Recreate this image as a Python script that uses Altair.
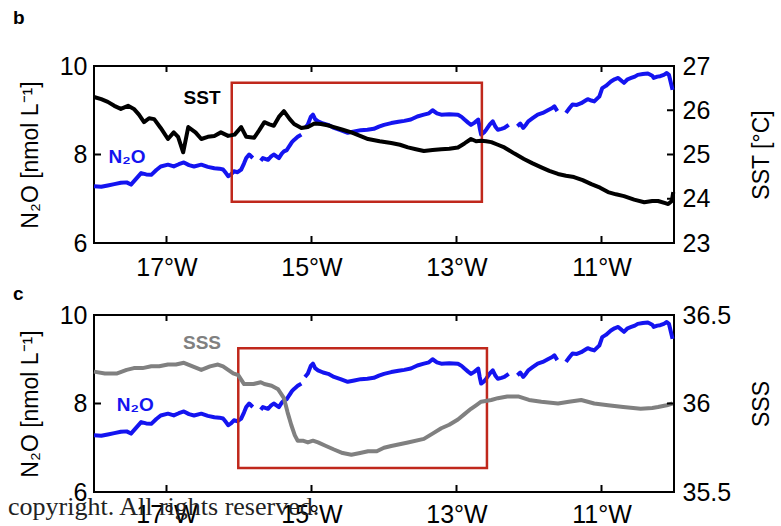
import altair as alt
import pandas as pd

# ---------------- data ----------------
X_DOMAIN = [-18, -10]
X_TICKS = [-17, -15, -13, -11]
N2O_DOMAIN = [6, 10]
N2O_TICKS = [6, 8, 10]
SST_DOMAIN = [23, 27]
SST_TICKS = [23, 24, 25, 26, 27]
SSS_DOMAIN = [35.5, 36.5]
SSS_TICKS = [35.5, 36, 36.5]

# N2O (nmol/L) along longitude; None marks a gap in the record
N2O_LON = [-18.0, -17.9, -17.81, -17.72, -17.63, -17.55, -17.49, -17.42, -17.35, -17.28,
           -17.21, -17.14, -17.08, -16.98, -16.9, -16.83, -16.76, -16.69, -16.62, -16.52,
           -16.43, -16.34, -16.27, -16.22, -16.18, -16.15, -16.11, -16.07, -16.02, -15.97,
           -15.93, -15.9, -15.86, -15.81, -15.76, -15.7, -15.67, -15.6, -15.56, -15.52,
           -15.45, -15.41, -15.38, -15.34, -15.31, -15.27, -15.24, -15.19, -15.14, -15.11,
           -15.09, -15.05, -15.01, -14.98, -14.95, -14.91, -14.84, -14.77, -14.69, -14.6,
           -14.5, -14.41, -14.32, -14.23, -14.14, -14.07, -14.0, -13.9, -13.8, -13.72,
           -13.63, -13.54, -13.45, -13.38, -13.33, -13.27, -13.21, -13.1, -12.98, -12.93,
           -12.89, -12.84, -12.8, -12.75, -12.7, -12.68, -12.66, -12.62, -12.59, -12.54,
           -12.5, -12.46, -12.43, -12.38, -12.34, -12.28, -12.22, -12.16, -12.12, -12.08,
           -12.04, -12.01, -11.95, -11.88, -11.81, -11.74, -11.68, -11.65, -11.61, -11.55,
           -11.49, -11.44, -11.4, -11.34, -11.28, -11.22, -11.19, -11.14, -11.1, -11.05,
           -11.03, -10.99, -10.94, -10.87, -10.82, -10.77, -10.72, -10.69, -10.64, -10.59,
           -10.54, -10.5, -10.43, -10.36, -10.3, -10.28, -10.23, -10.19, -10.14, -10.1,
           -10.07, -10.04, -10.02]
N2O_VAL = [7.28, 7.27, 7.3, 7.33, 7.36, 7.37, 7.32, 7.45, 7.58, 7.55,
           7.54, 7.65, 7.73, 7.77, 7.73, 7.78, 7.82, 7.76, 7.73, 7.77,
           7.72, 7.69, 7.68, 7.66, 7.58, 7.51, 7.55, 7.62, 7.6, 7.66,
           7.8, 7.92, 8.0, 7.92, None, 7.86, 7.92, 7.88, 7.95, 8.0,
           7.92, 8.02, 8.07, 8.1, 8.18, 8.28, 8.33, 8.4, 8.45, None,
           8.6, 8.68, 8.85, 8.9, 8.8, 8.75, 8.7, 8.67, 8.6, 8.55,
           8.49, 8.52, 8.55, 8.56, 8.58, 8.63, 8.67, 8.71, 8.74, 8.76,
           8.79, 8.86, 8.9, 8.93, 9.0, 8.93, 8.9, 8.91, 8.9, 8.85,
           8.79, 8.72, 8.67, 8.72, 8.79, 8.6, 8.45, 8.5, 8.56, 8.68,
           8.75, 8.62, 8.56, 8.58, 8.6, 8.67, None, 8.64, 8.7, 8.6,
           8.68, 8.75, 8.82, 8.9, 8.94, 9.0, 9.05, 9.09, 8.98, None,
           8.94, 9.05, 9.13, 9.12, 9.16, 9.22, 9.25, 9.22, 9.2, 9.28,
           9.31, 9.5, 9.55, 9.65, 9.7, 9.73, 9.66, 9.62, 9.7, 9.73,
           9.76, 9.8, 9.82, 9.83, 9.78, 9.73, 9.76, 9.77, 9.8, 9.84,
           9.8, 9.6, 9.46]

# sea surface temperature (deg C)
SST_LON = [-18.0, -17.9, -17.81, -17.72, -17.63, -17.53, -17.45, -17.38, -17.31, -17.24,
           -17.17, -17.08, -16.98, -16.9, -16.84, -16.77, -16.7, -16.6, -16.52, -16.43,
           -16.34, -16.25, -16.15, -16.06, -15.97, -15.9, -15.79, -15.72, -15.65, -15.58,
           -15.52, -15.45, -15.38, -15.3, -15.24, -15.14, -15.05, -14.96, -14.87, -14.78,
           -14.69, -14.57, -14.45, -14.33, -14.22, -14.06, -13.9, -13.78, -13.67, -13.56,
           -13.45, -13.33, -13.21, -13.1, -12.98, -12.89, -12.8, -12.73, -12.66, -12.59,
           -12.52, -12.43, -12.34, -12.2, -12.07, -11.95, -11.83, -11.72, -11.6, -11.49,
           -11.38, -11.26, -11.14, -11.02, -10.91, -10.8, -10.69, -10.55, -10.41, -10.3,
           -10.22, -10.12, -10.08, -10.03, -10.01]
SST_VAL = [26.3, 26.25, 26.19, 26.1, 26.03, 26.1, 26.03, 25.9, 25.73, 25.82,
           25.8, 25.6, 25.35, 25.5, 25.4, 25.05, 25.62, 25.5, 25.35, 25.4,
           25.42, 25.5, 25.42, 25.45, 25.62, 25.4, 25.38, 25.55, 25.73, 25.68,
           25.65, 25.85, 25.98, 25.8, 25.69, 25.6, 25.62, 25.7, 25.69, 25.66,
           25.62, 25.56, 25.5, 25.42, 25.35, 25.3, 25.26, 25.22, 25.16, 25.12,
           25.08, 25.1, 25.12, 25.13, 25.16, 25.25, 25.35, 25.3, 25.31, 25.3,
           25.28, 25.22, 25.16, 25.02, 24.9, 24.8, 24.71, 24.63, 24.56, 24.52,
           24.49, 24.42, 24.33, 24.25, 24.15, 24.1, 24.06, 23.98, 23.92, 23.95,
           23.95, 23.9, 23.88, 23.95, 24.15]

# sea surface salinity
SSS_LON = [-18.0, -17.85, -17.68, -17.55, -17.45, -17.33, -17.21, -17.1, -16.98, -16.87,
           -16.76, -16.64, -16.52, -16.4, -16.29, -16.22, -16.15, -16.08, -16.01, -15.93,
           -15.8, -15.7, -15.65, -15.55, -15.46, -15.38, -15.33, -15.28, -15.23, -15.19,
           -15.12, -15.05, -14.98, -14.91, -14.8, -14.69, -14.57, -14.45, -14.33, -14.22,
           -14.1, -14.0, -13.9, -13.67, -13.45, -13.33, -13.21, -13.1, -12.98, -12.89,
           -12.8, -12.73, -12.66, -12.52, -12.43, -12.3, -12.15, -12.0, -11.83, -11.6,
           -11.45, -11.28, -11.1, -10.91, -10.7, -10.46, -10.3, -10.22, -10.1, -10.02]
SSS_VAL = [36.18, 36.17, 36.17, 36.19, 36.2, 36.2, 36.21, 36.21, 36.22, 36.22,
           36.23, 36.21, 36.19, 36.21, 36.22, 36.21, 36.19, 36.17, 36.16, 36.11,
           36.11, 36.12, 36.11, 36.1, 36.08, 36.03, 35.95, 35.88, 35.82, 35.79,
           35.79, 35.78, 35.79, 35.78, 35.76, 35.74, 35.72, 35.71, 35.72, 35.73,
           35.73, 35.75, 35.76, 35.78, 35.8, 35.83, 35.86, 35.88, 35.91, 35.94,
           35.97, 35.99, 36.01, 36.02, 36.03, 36.04, 36.04, 36.02, 36.01, 36.0,
           36.01, 36.02, 36.0, 35.99, 35.98, 35.97, 35.975, 35.98, 35.99, 36.0]

# highlighted sections (lon range, N2O range)
BOX_B = {"lon": -16.1, "lon2": -12.65, "v": 6.93, "v2": 9.62}
BOX_C = {"lon": -16.01, "lon2": -12.58, "v": 6.54, "v2": 9.25}

BLUE = "#1414f0"
BLACK = "#000000"
GRAY = "#808080"
RED = "#c0281c"
FONT = "Liberation Sans"
W, H = 580, 177
LABEL_SIZE = 25


def series(lons, vals):
    rows, seg = [], 0
    for lo, va in zip(lons, vals):
        if va is None:
            seg += 1
            continue
        rows.append({"lon": lo, "v": va, "seg": seg})
    return pd.DataFrame(rows)


def x_encoding(label_pad):
    return alt.X("lon:Q", scale=alt.Scale(domain=X_DOMAIN, nice=False, zero=False),
                 axis=alt.Axis(values=X_TICKS, labelExpr="abs(datum.value) + '°W'", title=None,
                               labelFontSize=LABEL_SIZE, labelPadding=label_pad, labelFlush=False))


def panel(xe, right_df, right_color, right_title, right_domain, right_ticks, right_tp,
          labels, box, letter, letter_y, copyright=False):
    n2o_df = series(N2O_LON, N2O_VAL)
    y_left = alt.Y("v:Q", scale=alt.Scale(domain=N2O_DOMAIN, nice=False, zero=False),
                   axis=alt.Axis(values=N2O_TICKS, title="N₂O [nmol L⁻¹]", orient="left",
                                 labelPadding=7, titlePadding=17, labelFontSize=LABEL_SIZE))
    y_right = alt.Y("v:Q", scale=alt.Scale(domain=right_domain, nice=False, zero=False),
                    axis=alt.Axis(values=right_ticks, title=right_title, orient="right", format="~g",
                                  labelPadding=8, titlePadding=right_tp, titleAngle=270,
                                  titleBaseline="top", labelFontSize=LABEL_SIZE))

    n2o_line = alt.Chart(n2o_df).mark_line(color=BLUE, strokeWidth=4, strokeJoin="round").encode(
        x=xe, y=y_left, detail="seg:N")
    box_df = pd.DataFrame([box])
    rect = alt.Chart(box_df).mark_rect(filled=False, stroke=RED, strokeWidth=2.5).encode(
        x=xe, x2="lon2:Q", y=y_left, y2="v2:Q")
    lt_df = pd.DataFrame({"v": N2O_TICKS})
    left_ticks = alt.Chart(lt_df).mark_rule(color=BLACK, strokeWidth=2).encode(
        y=y_left, x=alt.value(0), x2=alt.value(7))
    n2o_lab_df = pd.DataFrame([labels["n2o"]])
    n2o_lab = alt.Chart(n2o_lab_df).mark_text(font=FONT, fontSize=19, fontWeight="bold", color=BLUE,
                                              baseline="middle", align="center").encode(
        x=xe, y=y_left, text="t:N")
    xt_df = pd.DataFrame({"lon": X_TICKS})
    xt_bottom = alt.Chart(xt_df).mark_rule(color=BLACK, strokeWidth=2).encode(
        x=xe, y=alt.value(H), y2=alt.value(H - 7))
    xt_top = alt.Chart(xt_df).mark_rule(color=BLACK, strokeWidth=2).encode(
        x=xe, y=alt.value(0), y2=alt.value(6))
    let_df = pd.DataFrame({"t": [letter]})
    letter_txt = alt.Chart(let_df).mark_text(font=FONT, fontSize=19, fontWeight="bold", color=BLACK,
                                             align="left", baseline="alphabetic").encode(
        x=alt.value(-81), y=alt.value(letter_y), text="t:N")
    left_layers = [n2o_line, rect, left_ticks, n2o_lab, xt_bottom, xt_top, letter_txt]
    if copyright:
        cp_df = pd.DataFrame({"t": ["copyright. All rights reserved."]})
        cp = alt.Chart(cp_df).mark_text(font="Liberation Serif", fontSize=26, color="#222222",
                                        align="left", baseline="alphabetic").encode(
            x=alt.value(-86), y=alt.value(200), text="t:N")
        left_layers.append(cp)
    left = alt.layer(*left_layers)

    r_line = alt.Chart(right_df).mark_line(color=right_color, strokeWidth=4, strokeJoin="round").encode(
        x=xe, y=y_right, detail="seg:N")
    rt_df = pd.DataFrame({"v": right_ticks})
    right_ticks_m = alt.Chart(rt_df).mark_rule(color=BLACK, strokeWidth=2).encode(
        y=y_right, x=alt.value(W), x2=alt.value(W - 7))
    r_lab_df = pd.DataFrame([labels["other"]])
    r_lab = alt.Chart(r_lab_df).mark_text(font=FONT, fontSize=19, fontWeight="bold", color=right_color,
                                          baseline="middle", align="center").encode(
        x=xe, y=y_right, text="t:N")
    right = alt.layer(r_line, right_ticks_m, r_lab)

    return alt.layer(left, right).resolve_scale(y="independent").properties(width=W, height=H)


top = panel(x_encoding(12), series(SST_LON, SST_VAL), BLACK, "SST [°C]", SST_DOMAIN, SST_TICKS, 41,
            {"n2o": {"lon": -17.545, "v": 7.94, "t": "N₂O"},
             "other": {"lon": -16.51, "v": 26.28, "t": "SST"}},
            BOX_B, "b", -42)
bottom = panel(x_encoding(10), series(SSS_LON, SSS_VAL), GRAY, "SSS", SSS_DOMAIN, SSS_TICKS, 20,
               {"n2o": {"lon": -17.43, "v": 7.97, "t": "N₂O"},
                "other": {"lon": -16.51, "v": 36.34, "t": "SSS"}},
               BOX_C, "c", -15, copyright=True)

chart = alt.vconcat(top, bottom, spacing=3).properties(
    padding={"left": 7, "top": 8, "right": 5, "bottom": 0},
    background="white",
).configure_view(stroke=BLACK, strokeWidth=2).configure_axis(
    grid=False, ticks=False, domain=False, labelFont=FONT, titleFont=FONT,
    labelColor=BLACK, titleColor=BLACK, titleFontSize=23, titleFontWeight="normal",
    labelOverlap=False, labelBound=False,
)

chart.save("out.html", embed_options={"renderer": "svg", "actions": False})
